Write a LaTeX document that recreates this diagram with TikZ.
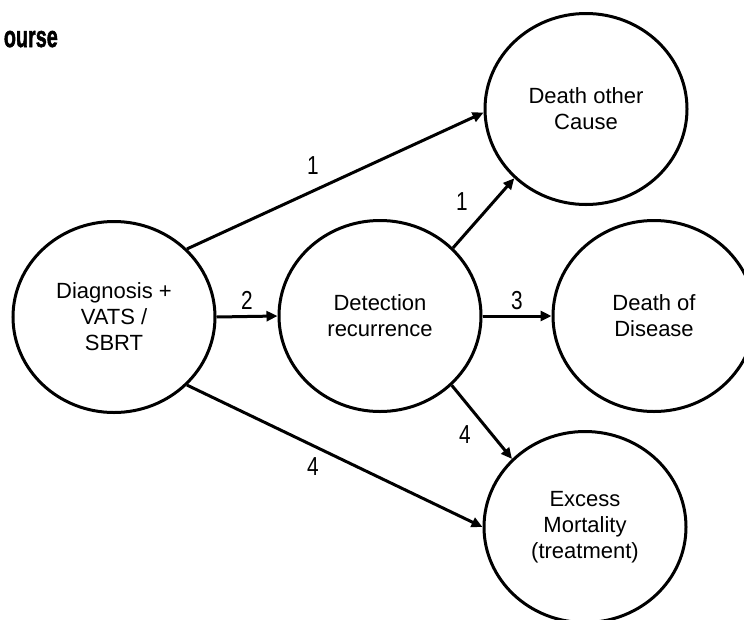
\documentclass[tikz,border=0pt]{standalone}
\usepackage{fontspec}
\setmainfont{Liberation Sans}
\newfontfamily\heavyfont[BoldFeatures={FakeBold=2}]{Liberation Sans}
\usetikzlibrary{shapes.geometric,arrows.meta}
\tikzset{
  state/.style={ellipse, draw=black, line width=3pt, minimum width=202pt, minimum height=191pt,
    inner sep=0pt, align=center, font=\fontsize{22}{26}\selectfont},
  conn/.style={line width=3pt, -{Triangle[length=11pt,width=10pt]}},
  num/.style={inner sep=0pt, font=\fontsize{26}{26}\selectfont}
}
\newcommand{\narrownum}[1]{\scalebox{0.8}[1]{#1}}
\begin{document}
\begin{tikzpicture}[x=1pt,y=-1pt]
\useasboundingbox (0,0) rectangle (744,619);
\clip (0,0) rectangle (744,619);
\node[anchor=base east, inner sep=0pt, font=\fontsize{30}{30}\heavyfont\bfseries] (title) at (58,47) {\scalebox{0.66}[1]{ourse}};
\node[state] (diag) at (114,317) {Diagnosis +\\VATS /\\SBRT};
\node[state] (det) at (380,316) {Detection\\recurrence};
\node[state] (other) at (586,109) {Death other\\Cause};
\node[state] (dis) at (654,316) {Death of\\Disease};
\node[state] (exc) at (585,527) {Excess\\Mortality\\(treatment)};
\draw[conn] (diag.43) -- (other.182);
\draw[conn] (diag.0) -- (det.180);
\draw[conn] (det.43) -- (other.224);
\draw[conn] (det.0) -- (dis.180);
\draw[conn] (det.-44) -- (exc.137);
\draw[conn] (diag.-43) -- (exc.180);
\node[num] (l1a) at (313,166) {\narrownum{1}};
\node[num] (l2) at (247,300) {\narrownum{2}};
\node[num] (l1b) at (462,202) {\narrownum{1}};
\node[num] (l3) at (517,301) {\narrownum{3}};
\node[num] (l4a) at (465,435) {\narrownum{4}};
\node[num] (l4b) at (313,467) {\narrownum{4}};
\end{tikzpicture}
\end{document}
